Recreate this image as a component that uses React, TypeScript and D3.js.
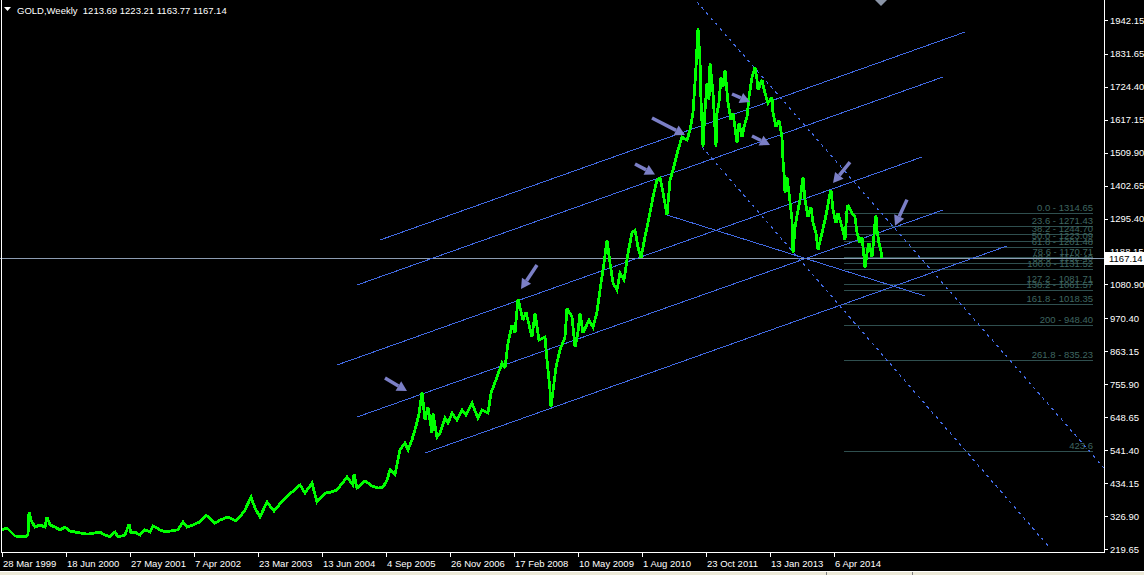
import React from "react";
import * as d3 from "d3";

// weekly gold, [bar index, price] (1 bar = 1 px)
const goldWeekly: [number, number][] = [
  [0, 282], [5, 288], [13, 262], [23, 259], [26, 265], [27, 340], [29, 314], [33, 291], [38, 298], [43, 291],
  [45, 324], [48, 298], [53, 291], [58, 282], [63, 291], [68, 278], [78, 272], [86, 268], [93, 272], [98, 275],
  [103, 265], [108, 259], [113, 275], [116, 259], [123, 265], [127, 301], [129, 272], [133, 275], [138, 265],
  [143, 282], [148, 275], [151, 295], [158, 282], [163, 275], [168, 278], [176, 282], [181, 308], [185, 291],
  [191, 298], [198, 308], [204, 330], [213, 304], [218, 314], [226, 324], [234, 311], [238, 324], [243, 347],
  [249, 389], [253, 353], [258, 324], [265, 373], [272, 343], [281, 379], [291, 408], [298, 428], [303, 402],
  [310, 434], [315, 373], [323, 402], [328, 404], [335, 412], [345, 454], [351, 428], [352, 464], [355, 418],
  [363, 441], [370, 425], [376, 418], [381, 421], [385, 444], [388, 477], [393, 461], [398, 542], [403, 565],
  [406, 542], [410, 575], [414, 620], [417, 660], [420, 731], [423, 640], [426, 682], [430, 597], [431, 662],
  [435, 584], [438, 597], [443, 646], [446, 630], [450, 662], [455, 640], [460, 672], [464, 656], [470, 695],
  [476, 646], [480, 672], [486, 662], [489, 727], [495, 780], [500, 825], [503, 809], [506, 890], [510, 949],
  [513, 923], [516, 1034], [521, 965], [524, 991], [530, 910], [533, 988], [537, 900], [543, 910], [545, 835],
  [548, 737], [549, 682], [554, 812], [558, 868], [563, 910], [565, 1004], [570, 975], [573, 877], [576, 926],
  [578, 988], [581, 923], [587, 965], [591, 942], [595, 991], [598, 1063], [602, 1151], [605, 1226], [608, 1151],
  [611, 1086], [615, 1063], [618, 1118], [622, 1096], [626, 1183], [630, 1249], [633, 1258], [636, 1203],
  [639, 1167], [643, 1236], [648, 1314], [651, 1366], [655, 1421], [658, 1428], [661, 1380], [665, 1307],
  [668, 1420], [671, 1454], [676, 1519], [680, 1561], [685, 1551], [688, 1584], [691, 1639], [694, 1789],
  [696, 1916], [698, 1812], [699, 1682], [701, 1529], [703, 1649], [705, 1737], [707, 1682], [708, 1802],
  [711, 1704], [714, 1529], [715, 1639], [717, 1672], [719, 1756], [721, 1724], [723, 1779], [726, 1672],
  [729, 1616], [731, 1639], [735, 1542], [737, 1607], [740, 1561], [742, 1594], [745, 1626], [747, 1691],
  [750, 1756], [753, 1789], [755, 1747], [756, 1714], [760, 1747], [763, 1704], [766, 1672], [770, 1691],
  [771, 1639], [774, 1594], [777, 1616], [780, 1561], [781, 1486], [782, 1444], [783, 1379], [785, 1431],
  [787, 1379], [790, 1291], [791, 1183], [793, 1268], [796, 1323], [798, 1356], [801, 1431], [803, 1356],
  [806, 1301], [809, 1333], [811, 1281], [814, 1249], [816, 1193], [820, 1249], [823, 1291], [825, 1323],
  [827, 1362], [829, 1389], [831, 1323], [834, 1281], [836, 1314], [840, 1268], [843, 1226], [845, 1323],
  [846, 1340], [850, 1314], [853, 1301], [855, 1249], [858, 1216], [860, 1236], [862, 1170], [863, 1135],
  [865, 1183], [867, 1216], [870, 1170], [871, 1203], [873, 1281], [874, 1307], [875, 1258], [877, 1216],
  [879, 1190], [880, 1167],
];

const priceTicks = [1942.15, 1831.65, 1724.4, 1617.15, 1509.9, 1402.65, 1295.4, 1188.15, 1080.9, 970.4, 863.15, 755.9, 648.65, 541.4, 434.15, 326.9, 219.65];

const dateTickBars = [0, 64, 128, 192, 256, 320, 384, 448, 512, 576, 640, 704, 768, 832];
const dateTickLabels = [
  "28 Mar 1999", "18 Jun 2000", "27 May 2001", "7 Apr 2002", "23 Mar 2003", "13 Jun 2004", "4 Sep 2005",
  "26 Nov 2006", "17 Feb 2008", "10 May 2009", "1 Aug 2010", "23 Oct 2011", "13 Jan 2013", "6 Apr 2014",
];

// channel / pitchfork lines: [bar, price, bar, price]
const channelLines: [number, number, number, number][] = [
  [378, 1225.8, 963, 1903.0],
  [355, 1079.2, 941, 1756.5],
  [335, 818.8, 920, 1496.0],
  [355, 649.5, 941, 1323.5],
  [423, 532.2, 1005, 1206.3],
  [665, 1307.2, 923, 1043.4],
];
const dottedLines: [number, number, number, number][] = [
  [695, 2000.8, 1102, 483.4],
  [700, 1528.6, 1048, 222.9],
];

const fibLevels = ["0.0", "23.6", "38.2", "50.0", "61.8", "78.6", "88.6", "100.0", "127.2", "138.2", "161.8", "200", "261.8", "423.6"];
const fibPrices = [1314.65, 1271.43, 1244.7, 1223.09, 1201.48, 1170.71, 1152.4, 1131.52, 1081.71, 1061.57, 1018.35, 948.4, 835.23, 538.9];
const fibStart = 842;
const fibEnd = 1091;

// arrows: tail bar, tail price, head bar, head price
const arrows: [number, number, number, number][] = [
  [383, 776.4, 405, 734],
  [535, 1144.4, 519, 1066],
  [633, 1473.2, 653, 1438.8],
  [650, 1623, 683, 1567.7],
  [730, 1701.2, 748, 1675],
  [750, 1564.4, 768, 1535],
  [848, 1479.1, 831, 1411],
  [905, 1357.3, 893, 1272.6],
];

const lastPrice = 1167.14;
const header = "GOLD,Weekly  1213.69 1223.21 1163.77 1167.14";

const W = 1144;
const H = 575;
const font = "'Liberation Sans', Arial, sans-serif";

export default function App() {
  const x = d3.scaleLinear().domain([-1, 1102]).range([1, 1104]);
  const y = d3.scaleLinear().domain([219.65, 1942.15]).range([549, 20]);

  const line = d3
    .line<[number, number]>()
    .x((d) => x(d[0]))
    .y((d) => y(d[1]));

  const blue = "#4169e1";
  const fibColor = "#2f4f4f";
  const arrowColor = "#7b7fc6";

  return (
    <div style={{ position: "fixed", left: 0, top: 0 }}>
      <svg width={W} height={H} style={{ display: "block", background: "#000" }}>
        <rect x={0} y={0} width={W} height={H} fill="#000" />

        {/* fibonacci */}
        {fibPrices.map((p, i) => (
          <g key={"f" + i}>
            <line x1={x(fibStart)} x2={x(fibEnd)} y1={Math.round(y(p)) + 0.5} y2={Math.round(y(p)) + 0.5} stroke={fibColor} strokeWidth={1} />
            <text x={x(fibEnd)} y={y(p) - 2} textAnchor="end" fontFamily={font} fontSize={9.5} fill="#3f6660">
              {fibLevels[i] === "423.6" ? "423.6" : `${fibLevels[i]} - ${p.toFixed(2)}`}
            </text>
          </g>
        ))}

        {/* current price line */}
        <line x1={0} x2={1104} y1={Math.round(y(lastPrice)) + 0.5} y2={Math.round(y(lastPrice)) + 0.5} stroke="#8c9cb2" strokeWidth={1} />

        {channelLines.map((l, i) => (
          <line key={"c" + i} x1={x(l[0])} y1={y(l[1])} x2={x(l[2])} y2={y(l[3])} stroke={blue} strokeWidth={1} shapeRendering="crispEdges" />
        ))}
        {dottedLines.map((l, i) => (
          <line key={"d" + i} x1={x(l[0])} y1={y(l[1])} x2={x(l[2])} y2={y(l[3])} stroke={blue} strokeWidth={1.2} strokeDasharray="3 4" shapeRendering="crispEdges" />
        ))}

        {/* price */}
        <path d={line(goldWeekly) ?? ""} fill="none" stroke="#00ff00" strokeWidth={2.8} strokeLinejoin="miter" strokeMiterlimit={3} shapeRendering="crispEdges" />

        {/* arrows */}
        {arrows.map((a, i) => {
          const x0 = x(a[0]), y0 = y(a[1]), x1 = x(a[2]), y1 = y(a[3]);
          const ang = Math.atan2(y1 - y0, x1 - x0);
          const hl = 10, hw = 5.5;
          const bx = x1 - hl * Math.cos(ang), by = y1 - hl * Math.sin(ang);
          const px = -Math.sin(ang), py = Math.cos(ang);
          return (
            <g key={"a" + i}>
              <line x1={x0} y1={y0} x2={bx} y2={by} stroke={arrowColor} strokeWidth={3.5} />
              <polygon points={`${x1},${y1} ${bx + px * hw},${by + py * hw} ${bx - px * hw},${by - py * hw}`} fill={arrowColor} />
            </g>
          );
        })}

        {/* frame */}
        <line x1={1.5} x2={1.5} y1={0} y2={553} stroke="#fff" />
        <line x1={1} x2={1105} y1={552.5} y2={552.5} stroke="#fff" />
        <line x1={1104.5} x2={1104.5} y1={0} y2={553} stroke="#fff" />

        {/* shift marker */}
        <polygon points="875,0 887,0 881,6" fill="#8a94a6" />

        {/* y axis */}
        {priceTicks.map((t) => (
          <g key={"y" + t}>
            <line x1={1105} x2={1108} y1={Math.round(y(t)) + 0.5} y2={Math.round(y(t)) + 0.5} stroke="#fff" />
            <text x={1110} y={y(t) + 3.5} fontFamily={font} fontSize={9.5} fill="#fff">
              {t.toFixed(2)}
            </text>
          </g>
        ))}
        <rect x={1105} y={Math.round(y(lastPrice)) - 6} width={39} height={13} fill="#fff" />
        <text x={1109} y={y(lastPrice) + 3.5} fontFamily={font} fontSize={9.5} fill="#000">
          {lastPrice.toFixed(2)}
        </text>

        {/* x axis */}
        {dateTickBars.map((b, i) => (
          <g key={"x" + b}>
            <line x1={Math.round(x(b)) + 0.5} x2={Math.round(x(b)) + 0.5} y1={553} y2={557} stroke="#fff" />
            <text x={x(b) + 1} y={567} fontFamily={font} fontSize={9.5} fill="#fff">
              {dateTickLabels[i]}
            </text>
          </g>
        ))}

        {/* header */}
        <polygon points="4,7 11,7 7.5,11" fill="#fff" />
        <text x={17} y={14} fontFamily={font} fontSize={9.5} fill="#fff" style={{ whiteSpace: "pre" }} xmlSpace="preserve">
          {header}
        </text>

        {/* status bar */}
        <rect x={0} y={571} width={W} height={4} fill="#ece9d8" />
        <line x1={0} x2={W} y1={571.5} y2={571.5} stroke="#fff" />
        <line x1={826.5} x2={826.5} y1={572} y2={575} stroke="#808080" />
        <line x1={912.5} x2={912.5} y1={572} y2={575} stroke="#808080" />
      </svg>
    </div>
  );
}
